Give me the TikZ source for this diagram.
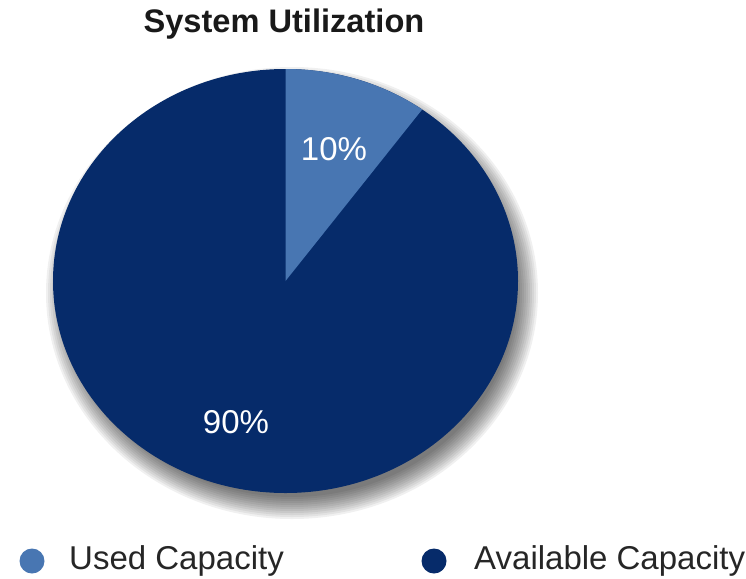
\documentclass[tikz,border=0pt]{standalone}
\usepackage{fontspec}
\setmainfont{Liberation Sans}
\usetikzlibrary{positioning}
\definecolor{usedblue}{RGB}{72,118,178}
\definecolor{freeblue}{RGB}{6,43,106}

\begin{document}
\begin{tikzpicture}[x=1pt,y=1pt,
  pct/.style={text=white,font=\fontsize{33}{39}\selectfont},
  legdot/.style={circle,minimum size=25pt,inner sep=0pt},
  legtext/.style={font=\fontsize{33}{39}\selectfont,text=black!85}]
  \useasboundingbox (0,0) rectangle (746,-578);
  \coordinate (c) at (285.5,-281);
  \coordinate (s) at (292,-293);
  % soft shadow under the pie
  \foreach \i in {0,...,11}
    \fill[black,opacity=0.06] (s) ellipse[x radius={224+2*\i}, y radius={204+2*\i}];
  % pie
  \fill[freeblue] (c) ellipse[x radius=232.5, y radius=212];
  \fill[usedblue] (c) -- ++(0,212) arc[start angle=90, end angle=54, x radius=232.5, y radius=212] -- cycle;
  \node[pct,anchor=base] (used) at (334,-160) {10\%};
  \node[pct,anchor=base] (free) at (236,-433) {90\%};
  % title
  \node[font=\bfseries\fontsize{32.6}{38}\selectfont,text=black!90,anchor=base] (title) at (284,-33) {System Utilization};
  % legend
  \node[legdot,fill=usedblue] (useddot) at (32,-561) {};
  \node[legtext,right=21pt of useddot] (usedtxt) {Used Capacity};
  \node[legdot,fill=freeblue] (freedot) at (434,-561) {};
  \node[legtext,right=24pt of freedot] (freetxt) {Available Capacity};
\end{tikzpicture}
\end{document}
